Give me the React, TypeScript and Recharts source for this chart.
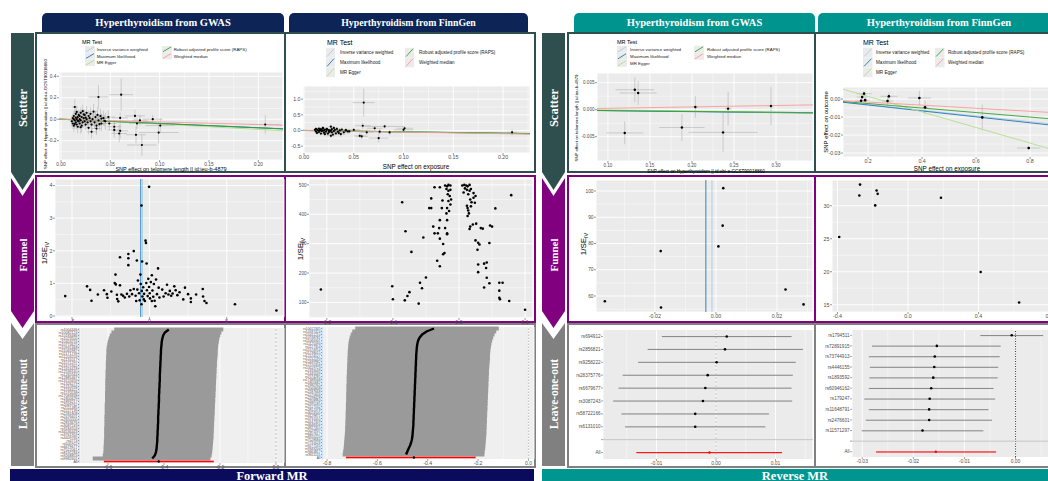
import React from "react";
import {
  Bar,
  CartesianGrid,
  ComposedChart,
  ErrorBar,
  Line,
  ReferenceLine,
  Scatter,
  XAxis,
  YAxis,
} from "recharts";

// MR methods, TwoSampleMR colours (brewer "Paired")
const mrMethods = [
  "Inverse variance weighted",
  "Maximum likelihood",
  "MR Egger",
  "Robust adjusted profile score (RAPS)",
  "Weighted median",
];
const mrColors = ["#a6cee3", "#1f78b4", "#b2df8a", "#33a02c", "#fb9a99"];

// ---- scatter: [x, y, se_x, se_y] ----
const fwdGwasSnps = [
  [0.011, -0.02, 0.002, 0.05], [0.012, 0.01, 0.002, 0.04], [0.012, -0.04, 0.002, 0.05], [0.013, 0.03, 0.002, 0.05],
  [0.013, -0.06, 0.002, 0.06], [0.014, 0.114, 0.003, 0.07], [0.014, -0.01, 0.002, 0.04], [0.015, 0.05, 0.002, 0.05],
  [0.015, -0.03, 0.002, 0.04], [0.016, 0.068, 0.003, 0.06], [0.016, 0.0, 0.002, 0.04], [0.016, -0.05, 0.002, 0.05],
  [0.017, 0.02, 0.002, 0.04], [0.017, -0.07, 0.003, 0.06], [0.018, -0.02, 0.002, 0.05], [0.018, 0.04, 0.003, 0.05],
  [0.019, 0.0, 0.002, 0.04], [0.019, -0.04, 0.002, 0.05], [0.02, 0.06, 0.003, 0.05], [0.02, -0.01, 0.002, 0.04],
  [0.021, 0.02, 0.002, 0.05], [0.021, -0.06, 0.003, 0.06], [0.022, -0.03, 0.002, 0.05], [0.022, 0.075, 0.003, 0.06],
  [0.023, 0.01, 0.002, 0.04], [0.024, -0.02, 0.003, 0.05], [0.024, 0.04, 0.003, 0.05], [0.025, -0.05, 0.003, 0.05],
  [0.026, 0.0, 0.003, 0.04], [0.026, 0.06, 0.003, 0.06], [0.027, -0.03, 0.003, 0.05], [0.028, 0.03, 0.003, 0.05],
  [0.028, -0.08, 0.003, 0.06], [0.029, 0.01, 0.003, 0.05], [0.03, -0.02, 0.004, 0.05], [0.03, 0.05, 0.004, 0.06],
  [0.031, -0.05, 0.004, 0.06], [0.032, 0.0, 0.004, 0.05], [0.033, 0.07, 0.004, 0.07], [0.034, -0.03, 0.004, 0.06],
  [0.035, 0.02, 0.005, 0.06], [0.036, -0.06, 0.005, 0.07], [0.037, 0.04, 0.005, 0.07], [0.038, -0.01, 0.005, 0.06],
  [0.04, 0.03, 0.005, 0.07], [0.041, -0.04, 0.005, 0.07], [0.043, 0.01, 0.006, 0.07], [0.045, -0.02, 0.006, 0.08],
  [0.013, 0.0, 0.002, 0.04], [0.014, -0.045, 0.002, 0.05], [0.015, 0.015, 0.002, 0.04], [0.017, -0.015, 0.002, 0.04],
  [0.019, 0.03, 0.002, 0.05], [0.02, -0.075, 0.003, 0.06], [0.023, 0.045, 0.003, 0.05], [0.025, 0.015, 0.003, 0.05],
  [0.038, 0.207, 0.01, 0.11], [0.061, 0.229, 0.012, 0.15], [0.207, -0.049, 0.016, 0.085], [0.076, -0.145, 0.01, 0.08],
  [0.082, -0.24, 0.015, 0.1], [0.099, -0.124, 0.02, 0.1], [0.1006, -0.059, 0.015, 0.07], [0.093, 0.0, 0.01, 0.04],
  [0.075, 0.031, 0.01, 0.06], [0.08, -0.01, 0.008, 0.05], [0.077, -0.04, 0.008, 0.05], [0.06, 0.012, 0.008, 0.05],
  [0.059, -0.133, 0.008, 0.08], [0.06, -0.108, 0.008, 0.07], [0.054, -0.07, 0.007, 0.06], [0.054, -0.1, 0.007, 0.07],
  [0.049, -0.04, 0.007, 0.06], [0.048, 0.02, 0.007, 0.06], [0.044, -0.015, 0.006, 0.05], [0.041, 0.006, 0.006, 0.05],
  [0.031, -0.117, 0.005, 0.06], [0.036, -0.087, 0.005, 0.06], [0.039, -0.046, 0.005, 0.06],
];
const fwdGwasSlopes = [-0.39, -0.4, -0.5, -0.4, -0.25];
const fwdGwasInts = [0, 0, 0.005, 0, 0];

const fwdFinnSnps = [
  [0.011, 0.02, 0.002, 0.05], [0.012, -0.03, 0.002, 0.05], [0.012, 0.05, 0.002, 0.06], [0.013, -0.08, 0.002, 0.06],
  [0.014, 0.0, 0.002, 0.05], [0.015, 0.06, 0.002, 0.06], [0.015, -0.05, 0.002, 0.05], [0.016, 0.02, 0.002, 0.05],
  [0.017, -0.1, 0.003, 0.06], [0.017, 0.04, 0.003, 0.05], [0.018, -0.02, 0.002, 0.05], [0.019, 0.07, 0.003, 0.06],
  [0.02, 0.0, 0.002, 0.05], [0.02, -0.07, 0.003, 0.06], [0.021, 0.03, 0.003, 0.05], [0.022, -0.04, 0.003, 0.06],
  [0.023, 0.05, 0.003, 0.06], [0.024, -0.1, 0.003, 0.07], [0.025, 0.01, 0.003, 0.05], [0.026, -0.03, 0.003, 0.06],
  [0.027, 0.12, 0.003, 0.07], [0.028, 0.04, 0.003, 0.06], [0.028, -0.06, 0.003, 0.06], [0.03, 0.08, 0.004, 0.07],
  [0.03, -0.02, 0.004, 0.06], [0.031, 0.02, 0.004, 0.06], [0.032, -0.09, 0.004, 0.07], [0.033, 0.05, 0.004, 0.07],
  [0.034, -0.04, 0.004, 0.07], [0.036, 0.0, 0.005, 0.07], [0.037, -0.12, 0.005, 0.08], [0.038, 0.03, 0.005, 0.07],
  [0.04, -0.06, 0.005, 0.08], [0.042, 0.01, 0.005, 0.08], [0.044, -0.03, 0.006, 0.08], [0.013, 0.03, 0.002, 0.05],
  [0.016, -0.01, 0.002, 0.05], [0.018, 0.01, 0.002, 0.05], [0.021, -0.12, 0.003, 0.07], [0.023, 0.02, 0.003, 0.05],
  [0.025, -0.05, 0.003, 0.06], [0.027, 0.0, 0.003, 0.06], [0.029, -0.13, 0.004, 0.07], [0.019, 0.08, 0.003, 0.06],
  [0.06, 0.89, 0.011, 0.44], [0.059, 0.15, 0.008, 0.1], [0.075, -0.245, 0.01, 0.15], [0.081, 0.128, 0.02, 0.06],
  [0.1, 0.02, 0.01, 0.05], [0.101, 0.07, 0.008, 0.05], [0.209, -0.06, 0.005, 0.1], [0.056, -0.17, 0.006, 0.08],
  [0.058, -0.19, 0.006, 0.08], [0.063, -0.06, 0.007, 0.08], [0.071, 0.07, 0.008, 0.08], [0.076, -0.04, 0.01, 0.08],
  [0.086, -0.064, 0.012, 0.08], [0.0455, -0.03, 0.006, 0.07], [0.042, 0.0, 0.006, 0.07], [0.05, 0.02, 0.006, 0.07],
  [0.035, -0.085, 0.005, 0.07], [0.027, -0.17, 0.004, 0.08],
];
const fwdFinnSlopes = [-0.45, -0.46, -0.48, -0.42, -0.52];
const fwdFinnInts = [0, 0, 0.003, 0, 0];

const revGwasSnps = [
  [0.132, 0.0037, 0.023, 0.0023], [0.136, 0.0031, 0.022, 0.0022], [0.12, -0.0043, 0.022, 0.0021],
  [0.204, 0.0005, 0.004, 0.002], [0.188, -0.0033, 0.027, 0.0025], [0.243, 0.0002, 0.004, 0.0031],
  [0.237, -0.0042, 0.041, 0.0036], [0.294, 0.0007, 0.004, 0.0035],
];
const revGwasSlopes = [-0.0016, -0.0018, -0.0022, -0.0016, 0.0026];
const revGwasInts = [0, 0, 0.0002, 0, 0];

const revFinnSnps = [
  [0.174, -0.0009, 0.022, 0.0012], [0.178, 0.0011, 0.02, 0.0012], [0.185, 0.003, 0.028, 0.0012],
  [0.189, -0.0006, 0.016, 0.0012], [0.272, -0.0011, 0.02, 0.0024], [0.277, 0.0015, 0.032, 0.0022],
  [0.39, 0.0006, 0.043, 0.004], [0.411, -0.0046, 0.012, 0.0038], [0.623, -0.0102, 0.01, 0.0071],
  [0.795, -0.0272, 0.043, 0.0012],
];
const revFinnSlopes = [-0.0157, -0.0165, -0.0432, -0.0125, -0.0085];
const revFinnInts = [0, 0, 0.0101, 0, 0];

// ---- funnel: [ratio estimate, 1/SE] ----
const fwdGwasFunnel = [
  [-5.44, 0.61], [-4.03, 0.91], [-3.83, 0.8], [-3.74, 0.47], [-3.33, 0.66], [-2.93, 0.79], [-2.75, 0.67], [-2.71, 0.56],
  [-2.46, 0.75], [-2.24, 1.01], [-2.19, 1.27], [-2.17, 0.97], [-2.1, 0.65], [-2.08, 0.52], [-2.01, 0.45], [-1.9, 1.8],
  [-1.9, 0.94], [-1.81, 0.66], [-1.7, 0.62], [-1.59, 0.57], [-1.45, 0.68], [-1.36, 1.9], [-1.36, 1.77], [-1.36, 1.56],
  [-1.3, 0.6], [-1.23, 0.79], [-1.12, 0.67], [-1.01, 1.99], [-1.01, 0.83], [-0.89, 0.62], [-0.85, 0.46], [-0.81, 1.7],
  [-0.78, 0.81], [-0.74, 1.09], [-0.67, 0.7], [-0.63, 0.48], [-0.58, 1.27], [-0.56, 0.98], [-0.51, 3.39], [-0.51, 0.36],
  [-0.49, 0.77], [-0.47, 1.67], [-0.45, 0.6], [-0.4, 0.88], [-0.36, 0.51], [-0.34, 0.68], [-0.29, 0.46], [-0.25, 2.31],
  [-0.22, 2.24], [-0.2, 1.01], [-0.18, 1.61], [-0.16, 0.79], [-0.11, 0.61], [-0.07, 1.14], [-0.02, 3.96], [-0.02, 0.89],
  [0.02, 0.7], [0.04, 0.54], [0.09, 1.04], [0.16, 1.25], [0.16, 0.46], [0.2, 0.78], [0.25, 0.59], [0.29, 0.98],
  [0.34, 0.47], [0.38, 0.3], [0.43, 1.12], [0.49, 0.67], [0.56, 1.46], [0.6, 0.87], [0.65, 0.57], [0.83, 0.81],
  [0.92, 0.6], [1.05, 0.7], [1.14, 0.96], [1.23, 0.66], [1.32, 0.77], [1.41, 0.62], [1.5, 0.69], [1.61, 0.91],
  [1.7, 0.79], [1.81, 0.64], [1.95, 0.73], [2.19, 0.51], [2.3, 0.87], [2.5, 0.67], [2.68, 0.54], [2.68, 0.43],
  [3.02, 0.66], [3.45, 0.83], [3.47, 0.6], [3.56, 0.46], [3.69, 0.4], [5.53, 0.36], [8.21, 0.17],
];
const fwdGwasFunnelLines = [[-0.45, 0], [-0.56, 1]]; // [estimate, method index]

const fwdFinnFunnel = [
  [-0.209, 144], [-0.086, 441], [-0.081, 342], [-0.072, 272], [-0.054, 321], [-0.101, 155], [-0.1, 111], [-0.082, 107],
  [-0.078, 122], [-0.075, 135], [-0.059, 167], [-0.056, 148], [-0.05, 185], [-0.061, 96], [0.1, 75], [0.079, 465],
  [0.055, 420], [0.047, 362], [0.05, 358], [0.046, 302], [0.042, 236], [0.038, 232], [0.041, 217], [0.042, 184],
  [0.038, 151], [0.046, 165], [0.061, 167], [0.066, 167], [0.061, 140], [0.061, 116], [0.062, 111], [0.076, 105],
  [0.029, 229], [0.029, 203], [0.031, 297], [0.029, 303], [0.028, 279], [0.025, 311], [0.033, 353], [0.036, 351],
  [0.026, 368], [0.021, 365], [0.017, 358], [0.016, 350], [0.022, 456], [0.025, 462], [0.024, 439], [0.022, 472],
  [0.005, 498], [0.008, 500], [0.011, 498], [0.013, 495], [0.016, 500], [0.009, 488], [0.012, 483], [0.016, 480],
  [0.018, 486], [0.014, 468], [0.017, 450], [0.019, 441], [0.012, 429], [0.013, 421], [0.014, 413], [0.015, 403],
  [0.013, 394], [0.018, 427], [0.007, 474], [-0.021, 498], [-0.018, 495], [-0.016, 500], [-0.013, 498], [-0.019, 486],
  [-0.016, 480], [-0.013, 483], [-0.017, 468], [-0.014, 462], [-0.012, 450], [-0.016, 445], [-0.013, 433], [-0.018, 421],
  [-0.015, 411], [-0.019, 403], [-0.037, 492], [-0.029, 492], [-0.042, 454], [-0.045, 421], [-0.042, 421], [-0.025, 447],
  [-0.026, 421], [-0.018, 380], [-0.029, 380], [-0.039, 358], [-0.03, 353], [-0.021, 353], [-0.032, 335], [-0.018, 335],
  [-0.018, 332], [-0.029, 317], [-0.024, 299], [-0.024, 264], [-0.022, 268], [-0.033, 242], [-0.029, 223], [-0.037, 335],
];

const revGwasFunnel = [
  [-0.0364, 58.0], [-0.0181, 77.1], [-0.018, 55.6], [0.0008, 78.9], [0.0022, 86.8], [0.0024, 101.1], [0.0228, 62.5],
  [0.0287, 56.8],
];
const revGwasFunnelLines = [[-0.0013, 0], [-0.0033, 1]];

const revFinnFunnel = [
  [-0.39, 25.26], [-0.272, 33.2], [-0.276, 31.56], [-0.178, 32.3], [-0.172, 31.8], [-0.186, 30.05], [0.187, 31.2],
  [0.412, 19.95], [0.63, 15.35],
];

// ---- leave-one-out (rows top to bottom), All = [lo, est, hi] ----
const fwdGwasLooSnp = [
  "rs1004446", "rs10082124", "rs10183486", "rs1023500", "rs10403216", "rs10774625", "rs10931468", "rs11065987",
  "rs11171739", "rs11203203", "rs1131017", "rs11571297", "rs11675342", "rs12416418", "rs12539160", "rs1265564",
  "rs12885467", "rs13153459", "rs1326279", "rs1410996", "rs1534422", "rs1570538", "rs17083838", "rs1800629",
  "rs1893217", "rs2069762", "rs2111485", "rs2227139", "rs2281808", "rs2476601", "rs2650000", "rs2853676",
  "rs3087243", "rs3184504", "rs34536443", "rs3761959", "rs4409785", "rs4774", "rs505922", "rs6679677",
  "rs7522061", "rs8192284", "rs9268853", "rs9982601",
];
const fwdGwasLooEst = [
  -0.383, -0.397, -0.403, -0.406, -0.408, -0.409, -0.41, -0.411, -0.411, -0.412,
  -0.412, -0.413, -0.413, -0.414, -0.414, -0.415, -0.415, -0.415, -0.416, -0.416,
  -0.417, -0.417, -0.418, -0.418, -0.418, -0.419, -0.419, -0.42, -0.42, -0.421,
  -0.421, -0.421, -0.422, -0.422, -0.423, -0.423, -0.424, -0.424, -0.425, -0.426,
  -0.427, -0.429, -0.433, -0.442,
];
const fwdGwasLooLo = [
  -0.578, -0.588, -0.594, -0.598, -0.601, -0.603, -0.605, -0.606, -0.606, -0.607,
  -0.607, -0.608, -0.608, -0.608, -0.609, -0.609, -0.609, -0.61, -0.61, -0.61,
  -0.61, -0.611, -0.611, -0.611, -0.611, -0.612, -0.612, -0.612, -0.612, -0.613,
  -0.613, -0.613, -0.613, -0.614, -0.614, -0.614, -0.614, -0.615, -0.615, -0.616,
  -0.616, -0.617, -0.619, -0.655,
];
const fwdGwasLooHi = [
  -0.188, -0.195, -0.199, -0.202, -0.204, -0.206, -0.207, -0.208, -0.208, -0.209,
  -0.21, -0.211, -0.211, -0.212, -0.212, -0.213, -0.213, -0.214, -0.214, -0.215,
  -0.215, -0.216, -0.216, -0.217, -0.217, -0.218, -0.218, -0.219, -0.219, -0.22,
  -0.22, -0.221, -0.221, -0.222, -0.222, -0.223, -0.223, -0.224, -0.225, -0.226,
  -0.227, -0.228, -0.23, -0.234,
];
const fwdGwasLooAll = [-0.615, -0.419, -0.222];

const fwdFinnLooSnp = [
  "rs10012345", "rs10187424", "rs10411210", "rs10748781", "rs11066301", "rs11125094", "rs1127354", "rs11574914",
  "rs11738015", "rs12124527", "rs12212193", "rs12439982", "rs12720356", "rs13119723", "rs1333049", "rs1445009",
  "rs1574285", "rs17388568", "rs1800682", "rs1990760", "rs2066808", "rs2187668", "rs2275606", "rs2298428",
  "rs2358994", "rs2395185", "rs2517532", "rs2812378", "rs3024505", "rs3129871", "rs3731055", "rs4147359",
  "rs4648356", "rs4927355", "rs5029937", "rs6457617", "rs6920220", "rs7528684", "rs7731626", "rs9277535",
  "rs9349204", "rs9463817", "rs9611131",
];
const fwdFinnLooEst = [
  -0.375, -0.405, -0.422, -0.432, -0.438, -0.441, -0.443, -0.444, -0.445, -0.446,
  -0.446, -0.447, -0.447, -0.448, -0.448, -0.449, -0.449, -0.45, -0.45, -0.451,
  -0.451, -0.452, -0.452, -0.453, -0.453, -0.454, -0.454, -0.455, -0.455, -0.456,
  -0.456, -0.457, -0.457, -0.458, -0.459, -0.46, -0.461, -0.463, -0.466, -0.47,
  -0.476, -0.481, -0.486,
];
const fwdFinnLooLo = [
  -0.688, -0.7, -0.706, -0.71, -0.713, -0.715, -0.716, -0.717, -0.718, -0.718,
  -0.719, -0.719, -0.72, -0.72, -0.721, -0.721, -0.722, -0.722, -0.722, -0.723,
  -0.723, -0.723, -0.724, -0.724, -0.724, -0.725, -0.725, -0.725, -0.726, -0.726,
  -0.726, -0.727, -0.727, -0.728, -0.728, -0.729, -0.73, -0.731, -0.732, -0.733,
  -0.734, -0.736, -0.738,
];
const fwdFinnLooHi = [
  -0.118, -0.128, -0.135, -0.14, -0.144, -0.147, -0.149, -0.151, -0.152, -0.153,
  -0.153, -0.154, -0.155, -0.156, -0.157, -0.157, -0.158, -0.158, -0.159, -0.159,
  -0.16, -0.16, -0.161, -0.161, -0.162, -0.162, -0.163, -0.163, -0.164, -0.164,
  -0.165, -0.165, -0.166, -0.166, -0.167, -0.167, -0.168, -0.169, -0.17, -0.171,
  -0.172, -0.174, -0.175,
];
const fwdFinnLooAll = [-0.725, -0.455, -0.21];

const revGwasLooSnp = [
  "rs694912", "rs2856821", "rs9258222", "rs28375776", "rs6679677", "rs3087243", "rs58722166", "rs6131010",
];
const revGwasLooEst = [0.0018, 0.0015, 0.0001, -0.0014, -0.0018, -0.0022, -0.0035, -0.0035];
const revGwasLooLo = [-0.0091, -0.0115, -0.0131, -0.0157, -0.0164, -0.0173, -0.0159, -0.0153];
const revGwasLooHi = [0.0127, 0.0146, 0.0134, 0.0129, 0.0127, 0.0128, 0.0089, 0.0083];
const revGwasLooAll = [-0.0134, -0.0011, 0.0111];

const revFinnLooSnp = [
  "rs1794511", "rs72891915", "rs73744913", "rs4446155", "rs1893592", "rs60946162", "rs179247", "rs11648791",
  "rs2476601", "rs11571297",
];
const revFinnLooEst = [-0.00075, -0.0154, -0.0158, -0.0159, -0.0161, -0.0165, -0.0168, -0.0169, -0.0169, -0.0182];
const revFinnLooLo = [-0.0069, -0.0281, -0.0287, -0.0285, -0.0286, -0.0287, -0.0296, -0.0287, -0.0293, -0.0301];
const revFinnLooHi = [0.0054, -0.0029, -0.0031, -0.0034, -0.0035, -0.0043, -0.004, -0.0053, -0.0046, -0.0063];
const revFinnLooAll = [-0.0273, -0.0156, -0.0038];

// minor grid values half way between major ticks
const minors = (ticks: number[], domain: number[]) => {
  const step = ticks[1] - ticks[0];
  const out: number[] = [];
  for (let v = ticks[0] - step / 2; v < domain[1]; v += step) {
    if (v > domain[0]) out.push(v);
  }
  return out;
};

const fmt = (d: number) => (v: any) => Number(v).toFixed(d);
const TICK_COLOR = "#4d4d4d";

function XYPanel(p: any) {
  const [L, T, R, B] = p.rect;
  const pad = 3;
  const xh = 9;
  const data = p.pts.map((d: number[]) => ({ x: d[0], y: d[1], ex: d[2], ey: d[3] }));
  const tick = { fontSize: p.fs, fill: TICK_COLOR };
  const tickLine = { stroke: "#333", strokeWidth: 0.5 };
  const [x0, x1] = p.xDomain;
  return (
    <div style={{ position: "absolute", left: L - p.yw, top: T - pad }}>
      <ComposedChart
        width={R - L + p.yw + pad}
        height={B - T + pad + xh}
        margin={{ top: pad, right: pad, bottom: 0, left: 0 }}
      >
        <CartesianGrid
          fill="#ebebeb"
          stroke="#fff"
          strokeWidth={0.45}
          verticalValues={minors(p.xTicks, p.xDomain)}
          horizontalValues={minors(p.yTicks, p.yDomain)}
        />
        <CartesianGrid stroke="#fff" strokeWidth={0.9} />
        <XAxis
          type="number"
          dataKey="x"
          domain={p.xDomain}
          ticks={p.xTicks}
          allowDataOverflow
          interval={0}
          height={xh}
          tickSize={2}
          tickMargin={0.5}
          axisLine={false}
          tickLine={tickLine}
          tick={tick}
          tickFormatter={fmt(p.xDec)}
        />
        <YAxis
          type="number"
          dataKey="y"
          domain={p.yDomain}
          ticks={p.yTicks}
          allowDataOverflow
          interval={0}
          width={p.yw}
          tickSize={2}
          tickMargin={0.5}
          axisLine={false}
          tickLine={tickLine}
          tick={{ fontSize: p.yfs || p.fs, fill: TICK_COLOR }}
          tickFormatter={fmt(p.yDec)}
        />
        {(p.vlines || []).map((v: number[], i: number) => (
          <ReferenceLine key={"v" + i} x={v[0]} stroke={mrColors[v[1]]} strokeWidth={0.9} />
        ))}
        <Scatter
          data={data}
          dataKey="y"
          isAnimationActive={false}
          shape={(s: any) => <circle cx={s.cx} cy={s.cy} r={p.r} fill="#000" />}
        >
          {p.errors
            ? [
                <ErrorBar key="ex" dataKey="ex" direction="x" width={0} stroke="#b3b3b3" strokeWidth={0.6} />,
                <ErrorBar key="ey" dataKey="ey" direction="y" width={0} stroke="#b3b3b3" strokeWidth={0.6} />,
              ]
            : null}
        </Scatter>
        {(p.slopes || []).map((m: number, i: number) => (
          <ReferenceLine
            key={"l" + i}
            ifOverflow="hidden"
            segment={[
              { x: x0, y: p.ints[i] + m * x0 },
              { x: x1, y: p.ints[i] + m * x1 },
            ]}
            stroke={mrColors[i]}
            strokeWidth={0.9}
          />
        ))}
      </ComposedChart>
    </div>
  );
}

const makeDot = (color: string, r: number) => (d: any) => {
  const key = "d" + d.index;
  if (d.value == null || d.cx == null || d.cy == null || isNaN(d.cx) || isNaN(d.cy)) return <g key={key} />;
  return <circle key={key} cx={d.cx} cy={d.cy} r={r} fill={color} />;
};

function LooPanel(p: any) {
  const [L, T, R, B] = p.rect;
  const pad = 2;
  const xh = 8;
  const rows: any[] = p.snps.map((s: string, i: number) => ({
    snp: s,
    ci: [p.lo[i], p.hi[i]],
    est: p.est[i],
  }));
  if (p.blank) rows.push({ snp: " " });
  rows.push({ snp: "All", ci: [p.all[0], p.all[2]], allEst: p.all[1] });
  // dense panels: each interval fills its row band so they merge into one block
  const barSize = p.dense ? (B - T) / rows.length - 0.02 : 1.1;
  const tickLine = { stroke: "#333", strokeWidth: 0.45 };
  const barShape = (s: any) => {
    const isAll = s.payload && s.payload.snp === "All";
    const w = Math.max(0, s.width || 0);
    if (p.dense && !isAll) {
      return <rect x={s.x} y={s.y - 0.5} width={w} height={s.height + 1} fill={p.barColor} />;
    }
    const h = p.dense ? 1.6 : s.height;
    return (
      <rect x={s.x} y={s.y + (s.height - h) / 2} width={w} height={h} fill={isAll ? "#ff0000" : p.barColor} />
    );
  };
  return (
    <div style={{ position: "absolute", left: L - p.yw, top: T - pad }}>
      <ComposedChart
        layout="vertical"
        data={rows}
        width={R - L + p.yw + pad}
        height={B - T + pad + xh}
        margin={{ top: pad, right: pad, bottom: 0, left: 0 }}
        barCategoryGap={0}
        barGap={0}
      >
        <CartesianGrid
          horizontal={false}
          fill={p.bg}
          stroke="#fff"
          strokeWidth={0.45}
          verticalValues={minors(p.xTicks, p.xDomain)}
        />
        <CartesianGrid horizontal={false} stroke="#fff" strokeWidth={0.9} />
        <XAxis
          type="number"
          domain={p.xDomain}
          ticks={p.xTicks}
          allowDataOverflow
          interval={0}
          height={xh}
          tickSize={2}
          tickMargin={0.5}
          axisLine={false}
          tickLine={tickLine}
          tick={{ fontSize: 5, fill: TICK_COLOR }}
          tickFormatter={fmt(p.xDec)}
        />
        <YAxis
          type="category"
          dataKey="snp"
          width={p.yw}
          interval={0}
          tickSize={p.dense ? 1 : 2}
          tickMargin={0.5}
          axisLine={false}
          stroke={TICK_COLOR}
          tickLine={tickLine}
          tick={{ fontSize: p.labelFs, fill: TICK_COLOR }}
        />
        {p.dense ? <ReferenceLine x={p.xDomain[0]} stroke="#c6dbef" strokeWidth={1.4} /> : null}
        <ReferenceLine x={0} stroke={p.zero[0]} strokeDasharray={p.zero[1]} strokeWidth={p.zero[2]} />
        {p.blank ? <ReferenceLine y=" " stroke="#bdbdbd" strokeWidth={0.8} /> : null}
        <Bar dataKey="ci" isAnimationActive={false} barSize={barSize} fill={p.barColor} shape={barShape} />
        {p.dense ? (
          <Line dataKey="est" stroke="#000" strokeWidth={2.4} dot={false} isAnimationActive={false} />
        ) : (
          <Line dataKey="est" stroke="none" dot={makeDot("#000", 1.3)} isAnimationActive={false} />
        )}
        <Line dataKey="allEst" stroke="none" dot={makeDot(p.dense ? "#000" : "#ff0000", 1.2)} isAnimationActive={false} />
      </ComposedChart>
    </div>
  );
}

function MrLegend(p: any) {
  const cols = [[0, 1, 2], [3, 4]];
  return (
    <g>
      <text x={p.x} y={p.ty} fontSize={p.tfs} fill="#000">MR Test</text>
      {cols.map((col, ci) =>
        col.map((m, ri) => {
          const kx = ci === 0 ? p.kx : p.c2;
          const cy = p.ry + ri * p.dy;
          return (
            <g key={m}>
              <rect x={kx} y={cy - p.dy / 2} width={p.kw} height={p.dy} fill="#ebebeb" />
              <line
                x1={kx + 1}
                y1={cy + p.dy / 2 - 1}
                x2={kx + p.kw - 1}
                y2={cy - p.dy / 2 + 1}
                stroke={mrColors[m]}
                strokeWidth={0.9}
              />
              <text x={kx + p.tx} y={cy} dy="0.35em" fontSize={p.fs} fill="#222">
                {mrMethods[m]}
              </text>
            </g>
          );
        })
      )}
    </g>
  );
}

function VText({ x, y, size, children, weight, color, family }: any) {
  return (
    <text
      x={x}
      y={y}
      transform={`rotate(-90 ${x} ${y})`}
      textAnchor="middle"
      fontSize={size}
      fontWeight={weight}
      fill={color || "#000"}
      fontFamily={family}
    >
      {children}
    </text>
  );
}

function SeLabel({ x, y }: any) {
  return (
    <VText x={x} y={y} size={8}>
      <tspan>1/SE</tspan>
      <tspan fontSize={5.5} dy={1.8}>IV</tspan>
    </VText>
  );
}

const SERIF = '"Liberation Serif", "Times New Roman", serif';

function Tab({ x, w, color, text, fs }: any) {
  return (
    <div
      style={{
        position: "absolute",
        left: x,
        top: 13,
        width: w,
        height: 19,
        background: color,
        borderRadius: "5px 5px 0 0",
        color: "#fff",
        fontFamily: SERIF,
        fontWeight: "bold",
        fontSize: fs,
        lineHeight: "19px",
        textAlign: "center",
      }}
    >
      {text}
    </div>
  );
}

function Box({ x, y, w, h, color, bw }: any) {
  return (
    <div
      style={{
        position: "absolute",
        left: x,
        top: y,
        width: w,
        height: h,
        boxSizing: "border-box",
        border: `${bw}px solid ${color}`,
      }}
    />
  );
}

function SideLabels({ x0 }: any) {
  const x1 = x0 + 23;
  const cx = x0 + 11.5;
  return (
    <g>
      <polygon points={`${x0},33 ${x1},33 ${x1},172 ${cx},190 ${x0},172`} fill="#2f4f4f" />
      <polygon points={`${x0},178 ${cx},196 ${x1},178 ${x1},311 ${cx},328 ${x0},311`} fill="#800080" />
      <polygon points={`${x0},323 ${cx},339 ${x1},323 ${x1},466 ${x0},466`} fill="#808080" />
      <VText x={cx + 4} y={108} size={12.5} weight="bold" color="#fff" family={SERIF}>Scatter</VText>
      <VText x={cx + 4} y={255} size={11} weight="bold" color="#fff" family={SERIF}>Funnel</VText>
      <VText x={cx + 4} y={394} size={11.5} weight="bold" color="#fff" family={SERIF}>Leave-one-out</VText>
    </g>
  );
}

const NAVY = "#0c2456";
const TEAL = "#00948f";

export default function App() {
  return (
    <div
      style={{
        position: "fixed",
        left: 0,
        top: 0,
        width: 1048,
        height: 481,
        overflow: "hidden",
        background: "#fff",
        fontFamily: '"Liberation Sans", Arial, sans-serif',
      }}
    >
      <Tab x={42} w={242} color={NAVY} text="Hyperthyroidism from GWAS" fs={10.5} />
      <Tab x={289} w={239} color={NAVY} text="Hyperthyroidism from FinnGen" fs={9.8} />
      <Tab x={574} w={241} color={TEAL} text="Hyperthyroidism from GWAS" fs={10.5} />
      <Tab x={818} w={242} color={TEAL} text="Hyperthyroidism from FinnGen" fs={10.5} />

      {/* forward panels */}
      <Box x={35} y={32} w={251} h={141} color="#2f4f4f" bw={2} />
      <Box x={284} y={32} w={252} h={141} color="#2f4f4f" bw={2} />
      <Box x={35} y={175} w={251} h={148} color="#800080" bw={2.5} />
      <Box x={284} y={175} w={252} h={148} color="#800080" bw={2.5} />
      <Box x={35} y={323} w={251} h={145} color="#808080" bw={2.5} />
      <Box x={284} y={323} w={252} h={145} color="#808080" bw={2.5} />
      {/* reverse panels */}
      <Box x={567} y={32} w={249} h={141} color="#2f4f4f" bw={2} />
      <Box x={814} y={32} w={250} h={141} color="#2f4f4f" bw={2} />
      <Box x={567} y={175} w={249} h={148} color="#800080" bw={2.5} />
      <Box x={814} y={175} w={250} h={148} color="#800080" bw={2.5} />
      <Box x={567} y={323} w={249} h={145} color="#808080" bw={2.5} />
      <Box x={814} y={323} w={250} h={145} color="#808080" bw={2.5} />

      {/* scatter */}
      <XYPanel
        rect={[59, 72, 283, 160]} yw={12} pts={fwdGwasSnps} errors r={1.1} fs={4.8}
        xDomain={[-0.002, 0.225]} yDomain={[-0.38, 0.44]}
        xTicks={[0, 0.05, 0.1, 0.15, 0.2]} yTicks={[-0.2, 0, 0.2, 0.4]} xDec={2} yDec={1}
        slopes={fwdGwasSlopes} ints={fwdGwasInts}
      />
      <XYPanel
        rect={[303, 86, 530, 153]} yw={14} pts={fwdFinnSnps} errors r={1.1} fs={5.3}
        xDomain={[-0.001, 0.227]} yDomain={[-0.72, 1.42]}
        xTicks={[0, 0.05, 0.1, 0.15, 0.2]} yTicks={[-0.5, 0, 0.5, 1]} xDec={2} yDec={1}
        slopes={fwdFinnSlopes} ints={fwdFinnInts}
      />
      <XYPanel
        rect={[597, 73, 813, 161]} yw={18} pts={revGwasSnps} errors r={1.2} fs={4.6}
        xDomain={[0.087, 0.344]} yDomain={[-0.0095, 0.0068]}
        xTicks={[0.1, 0.15, 0.2, 0.25, 0.3]} yTicks={[-0.005, 0, 0.005]} xDec={2} yDec={3}
        slopes={revGwasSlopes} ints={revGwasInts}
      />
      <XYPanel
        rect={[843, 87, 1060, 157]} yw={16} pts={revFinnSnps} errors r={1.3} fs={5.3}
        xDomain={[0.107, 0.911]} yDomain={[-0.0322, 0.0067]}
        xTicks={[0.2, 0.4, 0.6, 0.8]} yTicks={[-0.03, -0.02, -0.01, 0]} xDec={1} yDec={2}
        slopes={revFinnSlopes} ints={revFinnInts}
      />

      {/* funnel */}
      <XYPanel
        rect={[55, 179, 284, 317]} yw={9} pts={fwdGwasFunnel} r={1.3} fs={5.3}
        xDomain={[-6.1, 8.7]} yDomain={[-0.03, 4.2]}
        xTicks={[-5, 0, 5]} yTicks={[0, 1, 2, 3, 4]} xDec={0} yDec={0}
        vlines={fwdGwasFunnelLines}
      />
      <XYPanel
        rect={[309, 179, 533, 318]} yw={12} pts={fwdFinnFunnel} r={1.3} fs={5.3} yfs={4.6}
        xDomain={[-0.227, 0.112]} yDomain={[47, 520]}
        xTicks={[-0.2, -0.1, 0, 0.1]} yTicks={[100, 200, 300, 400, 500]} xDec={1} yDec={0}
      />
      <XYPanel
        rect={[596, 180, 813, 312]} yw={12} pts={revGwasFunnel} r={1.3} fs={5.3} yfs={4.8}
        xDomain={[-0.0393, 0.0318]} yDomain={[53.9, 104.2]}
        xTicks={[-0.02, 0, 0.02]} yTicks={[60, 70, 80, 90, 100]} xDec={2} yDec={0}
        vlines={revGwasFunnelLines}
      />
      <XYPanel
        rect={[832, 180, 1060, 312]} yw={10} pts={revFinnFunnel} r={1.3} fs={5.3}
        xDomain={[-0.431, 0.862]} yDomain={[13.9, 33.9]}
        xTicks={[-0.4, 0, 0.4, 0.8]} yTicks={[15, 20, 25, 30]} xDec={1} yDec={0}
      />

      {/* leave-one-out */}
      <LooPanel
        rect={[79, 328, 284, 463]} yw={31} dense bg="#efefef" barColor="#9a9a9a" labelFs={3.6}
        snps={fwdGwasLooSnp} est={fwdGwasLooEst} lo={fwdGwasLooLo} hi={fwdGwasLooHi} all={fwdGwasLooAll}
        xDomain={[-0.704, 0.029]} xTicks={[-0.6, -0.4, -0.2, 0]} xDec={1} zero={["#999", "2 2", 0.6]}
      />
      <LooPanel
        rect={[322, 327, 534, 459]} yw={24} dense bg="#efefef" barColor="#9a9a9a" labelFs={3.3}
        snps={fwdFinnLooSnp} est={fwdFinnLooEst} lo={fwdFinnLooLo} hi={fwdFinnLooHi} all={fwdFinnLooAll}
        xDomain={[-0.82, 0.022]} xTicks={[-0.8, -0.6, -0.4, -0.2, 0]} xDec={1} zero={["#999", "1.5 1.5", 0.6]}
      />
      <LooPanel
        rect={[603, 330, 813, 459]} yw={30} blank bg="#ebebeb" barColor="#8c8c8c" labelFs={4.6}
        snps={revGwasLooSnp} est={revGwasLooEst} lo={revGwasLooLo} hi={revGwasLooHi} all={revGwasLooAll}
        xDomain={[-0.019, 0.0163]} xTicks={[-0.01, 0, 0.01]} xDec={2} zero={["#a0a0a0", "2 2", 0.6]}
      />
      <LooPanel
        rect={[852, 329.5, 1060, 456.5]} yw={28} blank bg="#ebebeb" barColor="#8c8c8c" labelFs={4.6}
        snps={revFinnLooSnp} est={revFinnLooEst} lo={revFinnLooLo} hi={revFinnLooHi} all={revFinnLooAll}
        xDomain={[-0.032, 0.0087]} xTicks={[-0.03, -0.02, -0.01, 0]} xDec={2} zero={["#000", "1 1.5", 0.8]}
      />

      <svg
        width={1048}
        height={481}
        style={{ position: "absolute", left: 0, top: 0, pointerEvents: "none" }}
      >
        <SideLabels x0={11} />
        <SideLabels x0={542} />

        <MrLegend x={82} ty={43.8} tfs={5.5} kx={85} ry={49.3} dy={6.7} kw={10} c2={162} tx={11.7} fs={4.4} />
        <MrLegend x={327} ty={44.8} tfs={7} kx={326} ry={52.7} dy={9.8} kw={9} c2={405} tx={14} fs={4.6} />
        <MrLegend x={617} ty={43.8} tfs={5.5} kx={617} ry={49.3} dy={7} kw={10} c2={694} tx={13} fs={4.4} />
        <MrLegend x={863} ty={44.8} tfs={7} kx={863} ry={52.7} dy={9.8} kw={9.5} c2={935} tx={13} fs={4.6} />

        <text x={171} y={171} textAnchor="middle" fontSize={5.5}>SNP effect on telomere length || id:ieu-b-4879</text>
        <text x={416} y={168.5} textAnchor="middle" fontSize={6.3}>SNP effect on exposure</text>
        <text x={706} y={172.5} textAnchor="middle" fontSize={4.6}>SNP effect on Hyperthyroidism || id:ebi-a-GCST90018860</text>
        <text x={947} y={170.5} textAnchor="middle" fontSize={6.3}>SNP effect on exposure</text>
        <VText x={47} y={114} size={4.3}>SNP effect on Hyperthyroidism || id:ebi-a-GCST90018860</VText>
        <VText x={578} y={118} size={4.3}>SNP effect on telomere length || id:ieu-b-4879</VText>
        <VText x={828} y={122} size={6}>SNP effect on outcome</VText>

        <SeLabel x={47} y={253} />
        <SeLabel x={303} y={249} />
        <SeLabel x={586} y={244} />
      </svg>

      <div
        style={{
          position: "absolute", left: 10, top: 469, width: 524, height: 16, background: "#0b0b5e",
          color: "#fff", fontFamily: SERIF, fontWeight: "bold", fontSize: 12.5, lineHeight: "15px", textAlign: "center",
        }}
      >
        Forward MR
      </div>
      <div
        style={{
          position: "absolute", left: 542, top: 469, width: 506, height: 16, background: "#00968f",
          color: "#fff", fontFamily: SERIF, fontWeight: "bold", fontSize: 12.5, lineHeight: "15px", textAlign: "center",
        }}
      >
        Reverse MR
      </div>
    </div>
  );
}
